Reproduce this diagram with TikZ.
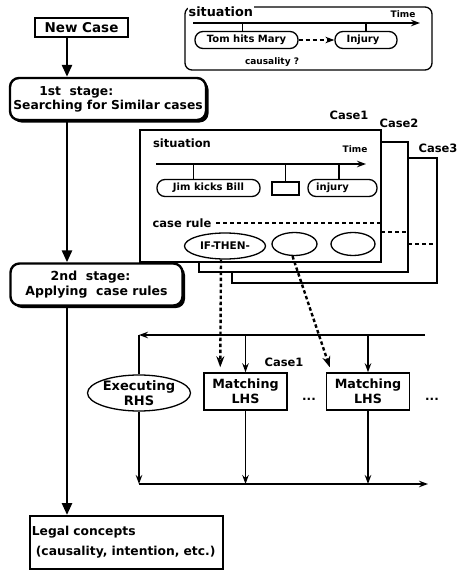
\documentclass[tikz,border=0pt]{standalone}
\usepackage{fontspec}
\setmainfont{DejaVu Sans}
\usepackage{tikz}
\usetikzlibrary{arrows.meta, calc, shadows, shapes.geometric, positioning}

\begin{document}
\begin{tikzpicture}[x=1pt, y=-1pt, line width=1.3pt, font=\bfseries,
        fs/.style={font=\fontsize{#1}{#1}\bfseries\selectfont},
        box/.style={draw, line width=2.4pt, inner sep=0pt},
        stagebox/.style={draw, line width=2.4pt, rounded corners=9pt, fill=white, inner sep=0pt,
            general shadow={fill=black, shadow xshift=2.5pt, shadow yshift=-2.5pt}},
        pill/.style={draw, rounded corners=8pt, minimum height=17pt, inner sep=0pt, fs=10},
        oval/.style={draw, ellipse, inner sep=0pt},
        lhsbox/.style={draw, line width=1.5pt, minimum width=83pt, minimum height=37pt, inner sep=0pt,
            align=center, font=\fontsize{12.7}{15}\bfseries\selectfont},
        lbl/.style={inner sep=1pt, fs=11.5},
        small/.style={inner sep=1pt, fs=9},
        flow/.style={line width=2.6pt, -{Triangle[length=12pt, width=10pt]}},
        thin/.style={-{Stealth[length=9pt, width=6.5pt]}},
        dashline/.style={dash pattern=on 4pt off 3pt},
        dots/.style={line width=2.4pt, dash pattern=on 3.5pt off 2.5pt, -{Stealth[length=11pt, width=8pt]}}]
    \useasboundingbox (0,0) rectangle (467,570);

    % main flow
    \coordinate (spine) at (67,0);
    \node[box, minimum width=93pt, minimum height=19pt, fs=13.5] (newcase) at (81.5,27.5) {New Case};
    \node[stagebox, minimum width=196pt, minimum height=42pt, align=left, fs=12.3] (stage1) at (108,99)
        {\hspace*{26pt}1st\ \ stage:\\[2pt]Searching for Similar cases};
    \node[stagebox, minimum width=172pt, minimum height=42pt, align=center, fs=12.5] (stage2) at (96.5,284.5)
        {\hspace*{-12pt}2nd\ \ stage:\\[2pt]Applying\ \ case rules};
    \node[draw, line width=1.7pt, minimum width=193pt, minimum height=53pt, text width=189pt, inner sep=2pt,
        align=left, anchor=north west, font=\fontsize{12.3}{20}\bfseries\selectfont] (legal) at (29,515)
        {Legal concepts\\\hspace*{4pt}(causality, intention, etc.)};
    \draw[flow] (newcase.south -| spine) -- (stage1.north -| spine);
    \draw[flow] (stage1.south -| spine) -- (stage2.north -| spine);
    \draw[flow] (stage2.south -| spine) -- (legal.north -| spine);

    % new case situation
    \draw[rounded corners=7pt] (185,7) rectangle (432,70);
    \node[inner sep=1pt, fs=12.8, fill=white, anchor=west] (sit1) at (187,12) {situation};
    \coordinate (ax0) at (193,23);
    \coordinate (ax1) at (420,23);
    \draw[thin] (ax0) -- (ax1);
    \node[small] (time1) at (403,14) {Time};
    \node[pill, minimum width=103pt] (tom) at (246.5,40) {Tom hits Mary};
    \node[pill, minimum width=62pt] (inj1) at (366,40) {Injury\hspace*{6pt}};
    \draw (tom.north) ++(-4,0) -- ++(0,-8.5);
    \draw (inj1.north) -- ++(0,-8.5);
    \draw[thin, dashline] (tom) -- (inj1);
    \node[small] (caus) at (272,62) {causality ?};

    % stored cases
    \foreach \l/\t/\r/\b in {232/158/437/283, 199/142/408/272, 140/130/381/262}
        \draw[fill=white] (\l,\t) rectangle (\r,\b);
    \node[lbl] (c1) at (349,115) {Case1};
    \node[lbl] (c2) at (399,123) {Case2};
    \node[lbl] (c3) at (438,148) {Case3};

    \node[lbl] (sit2) at (182,143) {situation};
    \coordinate (bx0) at (156,164);
    \coordinate (bx1) at (366,164);
    \draw[thin] (bx0) -- (bx1);
    \node[small] (time2) at (355,149) {Time};
    \node[pill, minimum width=103pt] (jim) at (208.5,188) {Jim kicks Bill};
    \node[draw, minimum width=27pt, minimum height=13pt, inner sep=0pt] (gap) at (285.5,188.5) {};
    \node[pill, minimum width=69pt] (inj2) at (342.5,188) {injury\hspace*{20pt}};
    \draw (jim.north) ++(-15,0) -- ++(0,-15.5);
    \draw (gap.north) -- (gap.north |- bx0);
    \draw (inj2.north) ++(-3.5,0) -- ++(0,-15.5);

    \node[lbl] (rule) at (182,223) {case rule};
    \coordinate (ruleend) at (380,223);
    \draw[dashline] (rule.east) ++(3,0) -- (ruleend);
    \node[oval, minimum width=81pt, minimum height=26pt, fs=10.5] (e1) at (225,246) {IF-THEN-};
    \node[oval, minimum width=45pt, minimum height=23pt] (e2) at (294.5,244) {};
    \node[oval, minimum width=44pt, minimum height=23pt] (e3) at (353,244) {};
    \coordinate (r1) at (381,232);
    \coordinate (r2) at (408,244);
    \draw[dashline] (r1) -- (r1 -| r2);
    \draw[dashline] (r2) -- ++(29,0);

    % rule application loop
    \node[oval, minimum width=103pt, minimum height=36pt, align=center,
        font=\fontsize{13}{15}\bfseries\selectfont] (exec) at (139,393) {Executing\\RHS};
    \node[lhsbox] (m1) at (245.5,391.5) {Matching\\LHS};
    \node[lhsbox] (m2) at (368,391.5) {Matching\\LHS};
    \node[lbl] (c1b) at (284,362) {Case1};
    \node[fs=12] (more1) at (309,399) {...};
    \node[fs=12] (more2) at (432,399) {...};

    \coordinate (topr) at (425,335);
    \coordinate (topl) at (139,335);
    \coordinate (botl) at (139,484);
    \coordinate (botr) at (428,484);
    \draw[thin] (topr) -- (topl);
    \draw (topl) -- (exec.north);
    \draw[thin] (botl) -- (botr);
    \foreach \n in {m1, m2} {
        \draw[thin] (\n.north |- topl) -- (\n.north);
        \draw[thin] (\n.south) -- (\n.south |- botl);
    }
    \draw[thin] (exec.south) -- (exec.south |- botl);

    \draw[dots] ($(e1.south)+(-4,0)$) -- ($(m1.north west)+(17,-5)$);
    \draw[dots] ($(e2.south)+(-2,0)$) -- ($(m2.north west)+(4,-5)$);
\end{tikzpicture}
\end{document}
